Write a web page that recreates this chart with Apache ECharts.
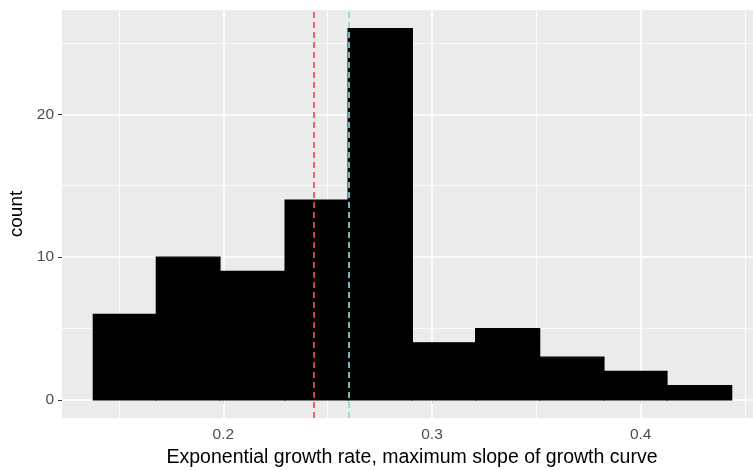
<!DOCTYPE html>
<html>
<head>
<meta charset="utf-8">
<script src="https://cdn.jsdelivr.net/npm/echarts@6/dist/echarts.min.js"></script>
<style>
html,body{margin:0;padding:0;background:#fff;}
#chart{width:753px;height:471px;}
</style>
</head>
<body>
<div id="chart"></div>
<script>
// Histogram bin edges (growth rate) and counts
const binEdges = [0.1377, 0.1679, 0.1984, 0.2296, 0.2598, 0.2906, 0.3209, 0.3516, 0.3824, 0.4126, 0.4436];
const counts = [6, 10, 9, 14, 26, 4, 5, 3, 2, 1];
// Vertical reference lines
const redLine = 0.2431;
const cyanLine = 0.2602;
// Tick values
const xTicks = [0.2, 0.3, 0.4];
const xMinorGrid = [0.15, 0.25, 0.35, 0.45];
const yTicks = [0, 10, 20];
const yMinorGrid = [5, 15, 25];

const barData = counts.map((c, i) => [binEdges[i], binEdges[i + 1], c]);

const chart = echarts.init(document.getElementById('chart'));
const font = 'Liberation Sans, Arial, sans-serif';

const option = {
  animation: false,
  grid: {
    left: 62, right: 0, top: 10, bottom: 53,
    outerBoundsMode: 'none', containLabel: false,
    show: true, backgroundColor: '#EBEBEB', borderWidth: 0
  },
  xAxis: {
    type: 'value',
    min: 0.12271, max: 0.45381,
    name: 'Exponential growth rate, maximum slope of growth curve',
    nameLocation: 'middle',
    nameGap: 30,
    nameTextStyle: { color: '#000', fontSize: 19.5, fontFamily: font, padding: [0, 0, 0, 9] },
    axisLine: { show: false },
    axisTick: { show: true, length: 4, lineStyle: { color: '#333', width: 1 }, customValues: xTicks },
    axisLabel: { color: '#4D4D4D', fontSize: 15.5, fontFamily: font, margin: 9, customValues: xTicks,
      formatter: v => v.toFixed(1) },
    splitLine: { show: false }
  },
  yAxis: {
    type: 'value',
    min: -1.26, max: 27.3,
    name: 'count',
    nameLocation: 'middle',
    nameGap: 36,
    nameTextStyle: { color: '#000', fontSize: 19, fontFamily: font },
    axisLine: { show: false },
    axisTick: { show: true, length: 4, lineStyle: { color: '#333', width: 1 }, customValues: yTicks },
    axisLabel: { color: '#4D4D4D', fontSize: 15.5, fontFamily: font, margin: 8, customValues: yTicks },
    splitLine: { show: false }
  },
  series: [
    {
      type: 'line', data: [], z: 1, silent: true,
      markLine: {
        z: 1, precision: 4,
        silent: true, symbol: 'none', animation: false,
        label: { show: false },
        data: [
          ...xTicks.map(v => ({ xAxis: v, lineStyle: { color: '#FFFFFF', width: 1.6, type: 'solid' } })),
          ...xMinorGrid.map(v => ({ xAxis: v, lineStyle: { color: '#FFFFFF', width: 0.8, type: 'solid' } })),
          ...yTicks.map(v => ({ yAxis: v, lineStyle: { color: '#FFFFFF', width: 1.6, type: 'solid' } })),
          ...yMinorGrid.map(v => ({ yAxis: v, lineStyle: { color: '#FFFFFF', width: 0.8, type: 'solid' } }))
        ]
      }
    },
    {
      type: 'custom', z: 3, silent: true,
      data: barData,
      encode: { x: [0, 1], y: 2 },
      renderItem: function (params, api) {
        const p0 = api.coord([api.value(0), api.value(2)]);
        const p1 = api.coord([api.value(1), 0]);
        return {
          type: 'rect',
          shape: { x: p0[0], y: p0[1], width: p1[0] - p0[0], height: p1[1] - p0[1] },
          style: { fill: '#000000', stroke: '#000000', lineWidth: 1.2 }
        };
      }
    },
    {
      type: 'line', data: [], z: 6, silent: true,
      markLine: {
        z: 6, precision: 4,
        silent: true, symbol: 'none', animation: false,
        label: { show: false },
        data: [
          { xAxis: redLine, lineStyle: { color: '#EE4B4F', width: 1.7, type: [6, 4] } },
          { xAxis: cyanLine, lineStyle: { color: '#7EDDD6', width: 1.7, type: [6, 4] } }
        ]
      }
    }
  ]
};
chart.setOption(option);
</script>
</body>
</html>
